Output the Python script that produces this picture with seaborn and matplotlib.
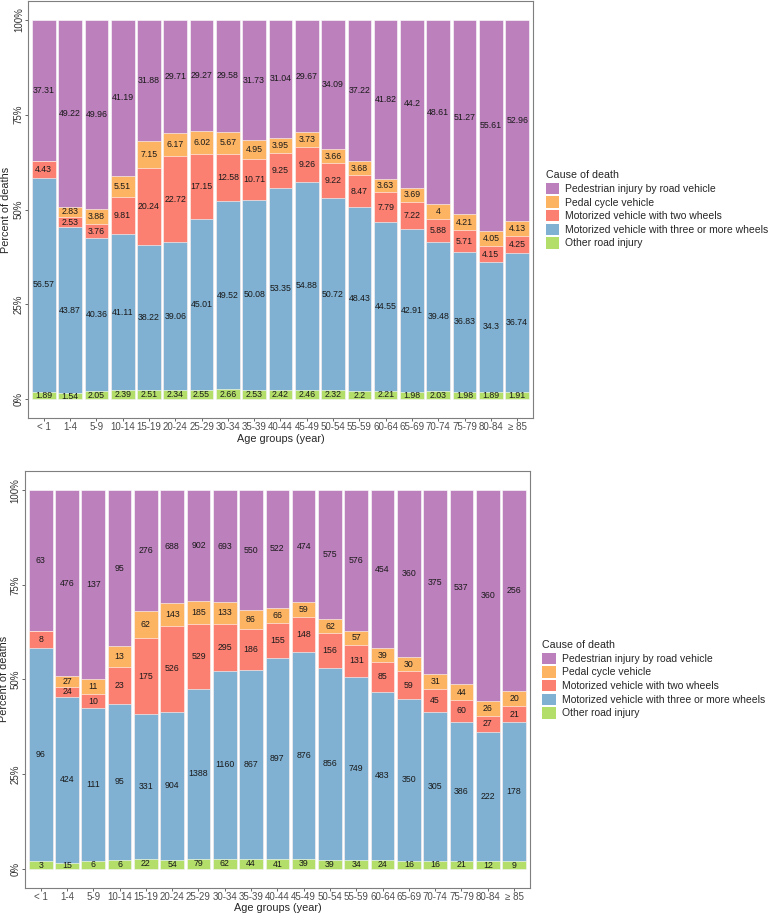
import matplotlib as mpl
import matplotlib.pyplot as plt
import numpy as np
import seaborn as sns
from matplotlib.patches import Patch

sns.set_theme(style="white")
mpl.rcParams["font.family"] = ["Liberation Sans", "DejaVu Sans"]

ages = ["< 1", "1-4", "5-9", "10-14", "15-19", "20-24", "25-29", "30-34", "35-39",
        "40-44", "45-49", "50-54", "55-59", "60-64", "65-69", "70-74", "75-79",
        "80-84", "≥ 85"]
causes = ["Pedestrian injury by road vehicle", "Pedal cycle vehicle",
          "Motorized vehicle with two wheels",
          "Motorized vehicle with three or more wheels", "Other road injury"]
colors = ["#BC80BD", "#FDB462", "#FB8072", "#80B1D3", "#B3DE69"]

# percent of deaths
pct_ped = [37.31, 49.22, 49.96, 41.19, 31.88, 29.71, 29.27, 29.58, 31.73, 31.04,
           29.67, 34.09, 37.22, 41.82, 44.2, 48.61, 51.27, 55.61, 52.96]
pct_pedal = [0, 2.83, 3.88, 5.51, 7.15, 6.17, 6.02, 5.67, 4.95, 3.95, 3.73, 3.66,
             3.68, 3.63, 3.69, 4, 4.21, 4.05, 4.13]
pct_two = [4.43, 2.53, 3.76, 9.81, 20.24, 22.72, 17.15, 12.58, 10.71, 9.25, 9.26,
           9.22, 8.47, 7.79, 7.22, 5.88, 5.71, 4.15, 4.25]
pct_three = [56.57, 43.87, 40.36, 41.11, 38.22, 39.06, 45.01, 49.52, 50.08, 53.35,
             54.88, 50.72, 48.43, 44.55, 42.91, 39.48, 36.83, 34.3, 36.74]
pct_other = [1.89, 1.54, 2.05, 2.39, 2.51, 2.34, 2.55, 2.66, 2.53, 2.42, 2.46, 2.32,
             2.2, 2.21, 1.98, 2.03, 1.98, 1.89, 1.91]

# number of deaths
n_ped = [63, 476, 137, 95, 276, 688, 902, 693, 550, 522, 474, 575, 576, 454, 360,
         375, 537, 360, 256]
n_pedal = [0, 27, 11, 13, 62, 143, 185, 133, 86, 66, 59, 62, 57, 39, 30, 31, 44, 26, 20]
n_two = [8, 24, 10, 23, 175, 526, 529, 295, 186, 155, 148, 156, 131, 85, 59, 45, 60,
         27, 21]
n_three = [96, 424, 111, 95, 331, 904, 1388, 1160, 867, 897, 876, 856, 749, 483, 350,
           305, 386, 222, 178]
n_other = [3, 15, 6, 6, 22, 54, 79, 62, 44, 41, 39, 39, 34, 24, 16, 16, 21, 12, 9]

pct = np.array([pct_ped, pct_pedal, pct_two, pct_three, pct_other], dtype=float)
counts = np.array([n_ped, n_pedal, n_two, n_three, n_other])
heights = pct / pct.sum(axis=0) * 100


def draw(ax, labels, ylab_x):
    # stack from bottom: last cause first
    cum = np.cumsum(heights[::-1], axis=0)[::-1]  # cum[i] = top of cause i
    for i in range(len(causes)):
        sns.barplot(x=ages, y=cum[i], color=colors[i], saturation=1, width=0.9,
                    edgecolor="white", linewidth=0.4, ax=ax)
    for i in range(len(causes)):
        for j in range(len(ages)):
            if labels[i][j] == 0:
                continue
            mid = cum[i][j] - heights[i][j] / 2
            ax.text(j, mid, f"{labels[i][j]:g}", ha="center", va="center",
                    fontsize=6.3, color="#1a1a1a")
    ax.set_xlim(-0.6, 18.6)
    ax.set_ylim(-5, 105)
    ax.set_yticks([0, 25, 50, 75, 100])
    ax.set_yticklabels(["0%", "25%", "50%", "75%", "100%"], rotation=90, va="center")
    ax.tick_params(axis="both", labelsize=7, colors="#4d4d4d", length=2.5,
                   width=0.6, bottom=True, left=True, pad=0.5)
    ax.tick_params(axis="y", labelcolor="#333333")
    ax.set_xlabel("Age groups (year)", fontsize=7.8, labelpad=1)
    ax.set_ylabel("Percent of deaths", fontsize=7.8)
    ax.yaxis.set_label_coords(ylab_x, 0.5)
    for s in ax.spines.values():
        s.set_color("#7f7f7f")
        s.set_linewidth(0.8)
    handles = [Patch(facecolor=c, edgecolor="none") for c in colors]
    ax.legend(handles, causes, title="Cause of death", loc="center left",
              bbox_to_anchor=(1.025, 0.5), frameon=False, fontsize=7.5,
              title_fontsize=7.7, alignment="left", handlelength=1.3,
              handleheight=1.3, handletextpad=0.55, labelspacing=0.22,
              borderaxespad=0, borderpad=0)


fig = plt.figure(figsize=(7.78, 9.15), dpi=100)
ax1 = fig.add_axes([0.036, 0.543, 0.649, 0.456])
ax2 = fig.add_axes([0.032, 0.030, 0.649, 0.455])

draw(ax1, pct, -0.034)
draw(ax2, counts, -0.032)

fig.savefig("out.png", dpi=100)
